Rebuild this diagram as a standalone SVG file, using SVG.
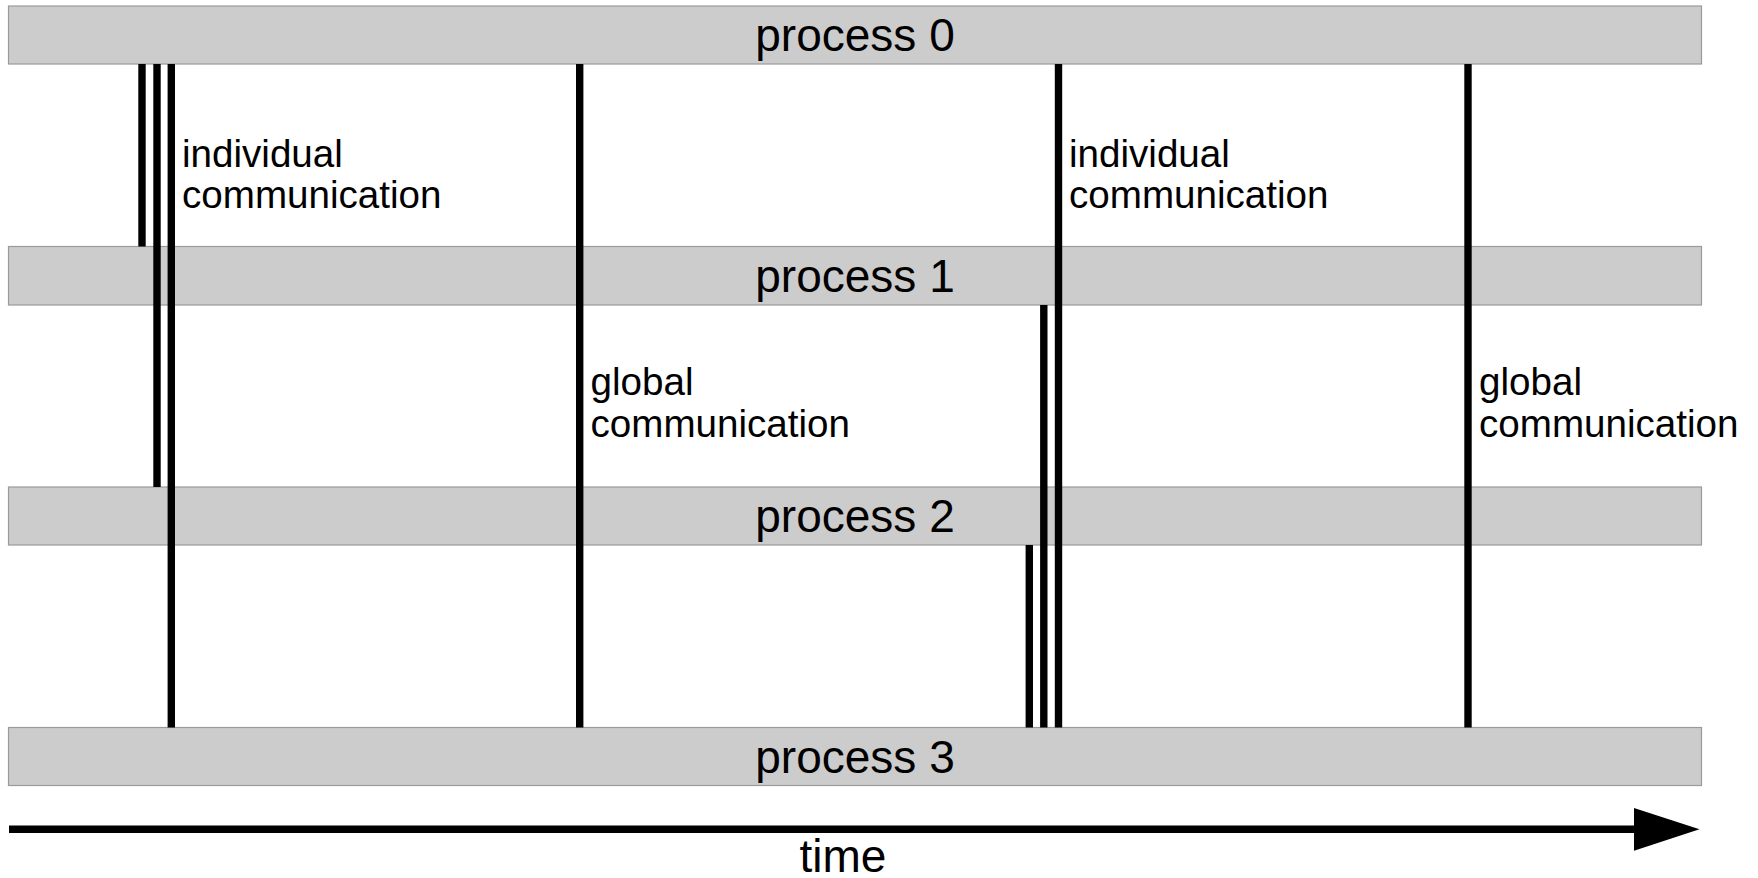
<svg xmlns="http://www.w3.org/2000/svg" width="1758" height="878" viewBox="0 0 1758 878">
<style>
.bar{fill:#cccccc;stroke:#9a9a9a;stroke-width:1.2}
.pt{font-family:"Liberation Sans",Arial,sans-serif;font-size:46px;fill:#000;text-anchor:middle}
.lb{font-family:"Liberation Sans",Arial,sans-serif;font-size:38.6px;fill:#000}
.c{stroke:#000;stroke-width:7.4;fill:none}
</style>
<rect width="1758" height="878" fill="#ffffff"/>
<g id="p0"><rect class="bar" x="8.5" y="6" width="1693" height="58"/><text class="pt" x="855" y="50.5">process 0</text></g>
<g id="p1"><rect class="bar" x="8.5" y="246.5" width="1693" height="58.5"/><text class="pt" x="855" y="291.5">process 1</text></g>
<g id="p2"><rect class="bar" x="8.5" y="487" width="1693" height="58"/><text class="pt" x="855" y="532">process 2</text></g>
<g id="p3"><rect class="bar" x="8.5" y="727.5" width="1693" height="58"/><text class="pt" x="855" y="772.5">process 3</text></g>
<g id="connectors">
<line class="c" x1="142" y1="64" x2="142" y2="246.5"/>
<line class="c" x1="157" y1="64" x2="157" y2="487"/>
<line class="c" x1="171.3" y1="64" x2="171.3" y2="727.5"/>
<line class="c" x1="579.7" y1="64" x2="579.7" y2="727.5"/>
<line class="c" x1="1029.3" y1="545" x2="1029.3" y2="727.5"/>
<line class="c" x1="1043.8" y1="305" x2="1043.8" y2="727.5"/>
<line class="c" x1="1058.5" y1="64" x2="1058.5" y2="727.5"/>
<line class="c" x1="1468" y1="64" x2="1468" y2="727.5"/>
</g>
<g id="labels">
<text class="lb" x="182" y="166.5">individual</text>
<text class="lb" x="182" y="208.3">communication</text>
<text class="lb" x="590.5" y="394.5">global</text>
<text class="lb" x="590.5" y="437">communication</text>
<text class="lb" x="1069" y="166.5">individual</text>
<text class="lb" x="1069" y="208.3">communication</text>
<text class="lb" x="1479" y="394.5">global</text>
<text class="lb" x="1479" y="437">communication</text>
</g>
<g id="time-axis">
<line x1="9" y1="829.2" x2="1636" y2="829.2" stroke="#000" stroke-width="7.4"/>
<polygon points="1634,808 1699.5,829.2 1634,850.7" fill="#000"/>
<text class="pt" x="843" y="871.5">time</text>
</g>
</svg>
